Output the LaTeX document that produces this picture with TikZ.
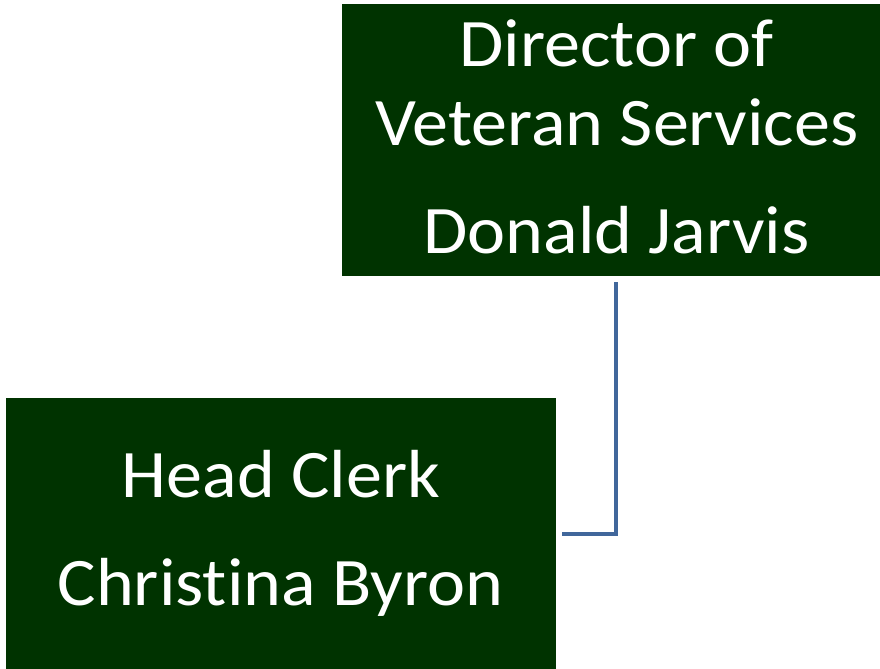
\documentclass[tikz,border=0pt]{standalone}
\usepackage{fontspec}
\setmainfont{Carlito}[Ligatures={NoCommon}, FakeStretch=1.06]
\definecolor{boxgreen}{RGB}{0,51,0}
\definecolor{connblue}{RGB}{65,103,155}
\tikzset{
  orgbox/.style={draw=none, fill=boxgreen, minimum width=412.5pt, minimum height=204pt, inner sep=0pt},
  orgtext/.style={text=white, anchor=base, inner sep=0pt, font=\fontsize{51}{60}\selectfont},
  conn/.style={draw=connblue, line width=3.6pt, line join=miter}
}
\begin{document}
\begin{tikzpicture}[x=0.75pt, y=-0.75pt]
\useasboundingbox (0,0) rectangle (880,668);
\clip (0,0) rectangle (880,668);
\node[orgbox] (dir) at (616.5,140) {};
\node[orgbox] (clerk) at (280.5,534) {};
\node[orgtext] (t1) at (616.5,66) {Director of};
\node[orgtext] (t2) at (617,145) {Veteran Services};
\node[orgtext] (t3) at (616.5,253) {Donald Jarvis};
\node[orgtext] (t4) at (281,497) {Head Clerk};
\node[orgtext] (t5) at (280.5,605) {Christina Byron};
\coordinate (cstart) at ([yshift=-4.5pt]dir.south -| 616,0);
\coordinate (cend) at ([xshift=4.5pt]clerk.east |- 0,534);
\draw[conn] (cstart) |- (cend);
\end{tikzpicture}
\end{document}
